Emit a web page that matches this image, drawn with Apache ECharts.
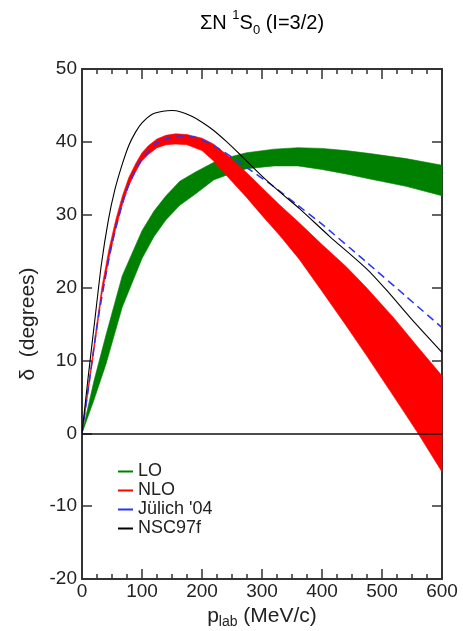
<!DOCTYPE html>
<html><head><meta charset="utf-8">
<script src="https://cdn.jsdelivr.net/npm/echarts@6/dist/echarts.min.js"></script>
<style>html,body{margin:0;padding:0;background:#fff}#c{width:463px;height:631px}</style>
</head><body><div id="c"></div>
<script>
// ---- data ----
const loP    = [0, 20, 40, 67, 100, 120, 140, 163, 190, 220, 250, 274, 320, 360, 400, 440, 480, 540, 600];
const loLow  = [0, 4.6, 9.5, 17.3, 24.0, 27.0, 29.3, 31.3, 32.9, 34.8, 35.7, 36.3, 36.7, 36.7, 36.2, 35.6, 34.9, 33.9, 32.6];
const loHigh = [0, 7.2, 13.5, 21.6, 27.8, 30.5, 32.6, 34.6, 35.9, 37.2, 38.0, 38.5, 39.0, 39.2, 39.1, 38.8, 38.4, 37.7, 36.8];

const nloP    = [0, 10, 20, 33, 45, 56, 67, 78, 90, 100, 111, 125, 140, 156, 175, 200, 219, 245, 274, 300, 330, 362, 400, 440, 474, 520, 560, 600];
const nloLow  = [0, 5.6, 11.4, 19.0, 24.0, 28.0, 31.3, 34.0, 36.0, 37.4, 38.3, 39.2, 39.6, 39.7, 39.6, 38.8, 37.4, 35.0, 32.4, 29.9, 27.1, 23.9, 19.5, 14.8, 10.7, 5.0, 0.0, -5.3];
const nloHigh = [0, 6.2, 12.2, 20.0, 25.3, 29.2, 32.5, 35.1, 37.1, 38.5, 39.5, 40.4, 40.9, 41.1, 41.0, 40.5, 39.7, 38.0, 35.8, 33.7, 31.3, 28.9, 25.9, 22.9, 20.0, 15.8, 11.8, 7.9];

const julP = [0, 11, 28, 50, 72, 94, 122, 140, 163, 190, 219, 250, 274, 319, 358, 400, 474, 540, 600];
const julD = [0, 6.4, 16.3, 26.0, 32.8, 36.9, 39.7, 40.4, 40.8, 40.6, 39.5, 37.9, 36.5, 33.9, 31.4, 28.7, 23.5, 18.8, 14.5];

const nscP = [0, 10, 22, 32, 44, 55, 67, 78, 89, 100, 117, 135, 150, 165, 183, 200, 219, 240, 263, 300, 330, 363, 413, 474, 508, 550, 600];
const nscD = [0, 7.5, 16.0, 23.0, 29.3, 33.5, 36.9, 39.5, 41.3, 42.6, 43.8, 44.2, 44.3, 44.1, 43.5, 42.7, 41.6, 40.1, 38.3, 35.3, 33.1, 30.8, 27.0, 22.6, 19.6, 15.6, 11.1];

const seriesNames = ['LO', 'NLO', 'J\u00fclich \'04', 'NSC97f'];
const xRange = [0, 600], xStep = 100;
const yRange = [-20, 50], yStep = 10;

// ---- chart ----
const FONT = 'Liberation Sans, Arial, Helvetica, sans-serif';
const TXT = '#222';
const AX = '#333';
const chart = echarts.init(document.getElementById('c'), null, {renderer: 'canvas'});

function pairs(xs, ys) { return xs.map((x, i) => [x, ys[i]]); }

function bandSeries(name, xs, lo, hi, color) {
  return {
    name: name, type: 'custom', silent: true,
    data: xs.map((x, i) => [x, lo[i], hi[i]]),
    encode: {x: 0, y: [1, 2]},
    itemStyle: {color: color},
    renderItem: function (params, api) {
      if (params.dataIndex !== 0) return null;
      const pts = [];
      for (let i = 0; i < xs.length; i++) pts.push(api.coord([xs[i], hi[i]]));
      for (let i = xs.length - 1; i >= 0; i--) pts.push(api.coord([xs[i], lo[i]]));
      return {type: 'polygon', shape: {points: pts}, style: {fill: color, stroke: color, lineWidth: 0.6}};
    }
  };
}

const tickCommon = {show: true, inside: true, length: 10, lineStyle: {color: AX, width: 1.5}};
const lineCommon = {show: true, onZero: false, lineStyle: {color: AX, width: 2}};
const labelCommon = {fontFamily: FONT, fontSize: 19, color: TXT};

const option = {
  animation: false,
  backgroundColor: '#fff',
  grid: {left: 82, right: 21, top: 69, bottom: 52, containLabel: false, outerBoundsMode: 'none'},
  graphic: [{
    type: 'text', x: 262, y: 23,
    style: {
      text: '{a|\u03a3N }{s|1}{a|S}{b|0}{a| (I=3/2)}',
      textAlign: 'center', textVerticalAlign: 'middle',
      rich: {
        a: {fontFamily: FONT, fontSize: 20, color: TXT, lineHeight: 28, verticalAlign: 'middle'},
        s: {fontFamily: FONT, fontSize: 13, color: TXT, lineHeight: 13, verticalAlign: 'top'},
        b: {fontFamily: FONT, fontSize: 13, color: TXT, lineHeight: 13, verticalAlign: 'bottom'}
      }
    }
  }],
  legend: {
    data: seriesNames, orient: 'vertical', left: 113, top: 457,
    itemWidth: 15, itemHeight: 2, icon: 'rect', itemGap: 0,
    selectedMode: false,
    itemStyle: {borderWidth: 0},
    textStyle: {fontFamily: FONT, fontSize: 18, color: TXT, lineHeight: 19, padding: [0, 0, 0, 0]}
  },
  xAxis: [{
    type: 'value', min: xRange[0], max: xRange[1], interval: xStep, position: 'bottom',
    axisLine: lineCommon, axisTick: tickCommon,
    minorTick: {show: true, splitNumber: 4, length: 5, lineStyle: {color: AX, width: 1.5}},
    splitLine: {show: false}, minorSplitLine: {show: false},
    axisLabel: Object.assign({margin: 3}, labelCommon),
    name: '{a|p}{b|lab}{a| (MeV/c)}', nameLocation: 'middle', nameGap: 22,
    nameTextStyle: {
      rich: {
        a: {fontFamily: FONT, fontSize: 21, color: TXT, lineHeight: 26, verticalAlign: 'middle'},
        b: {fontFamily: FONT, fontSize: 14, color: TXT, lineHeight: 14, verticalAlign: 'bottom'}
      }
    }
  }, {
    type: 'value', min: xRange[0], max: xRange[1], interval: xStep, position: 'top',
    axisLine: lineCommon, axisTick: tickCommon,
    minorTick: {show: true, splitNumber: 4, length: 5, lineStyle: {color: AX, width: 1.5}},
    splitLine: {show: false}, axisLabel: {show: false}
  }],
  yAxis: [{
    type: 'value', min: yRange[0], max: yRange[1], interval: yStep, position: 'left',
    axisLine: lineCommon, axisTick: tickCommon, splitLine: {show: false},
    axisLabel: Object.assign({margin: 5}, labelCommon),
    name: '\u03b4  (degrees)', nameLocation: 'middle', nameGap: 43,
    nameTextStyle: {fontFamily: FONT, fontSize: 21, color: TXT}
  }, {
    type: 'value', min: yRange[0], max: yRange[1], interval: yStep, position: 'right',
    axisLine: lineCommon, axisTick: tickCommon, splitLine: {show: false},
    axisLabel: {show: false}
  }],
  series: [
    bandSeries(seriesNames[0], loP, loLow, loHigh, '#008000'),
    bandSeries(seriesNames[1], nloP, nloLow, nloHigh, '#ff0000'),
    {
      name: seriesNames[2], type: 'line', data: pairs(julP, julD), symbol: 'none',
      smooth: 0.2, color: '#2b35f0', itemStyle: {color: '#2b35f0'},
      lineStyle: {color: '#2b35f0', width: 1.5, type: [8, 5]}, silent: true, emphasis: {disabled: true}
    },
    {
      name: seriesNames[3], type: 'line', data: pairs(nscP, nscD), symbol: 'none',
      smooth: 0.2, color: '#000', itemStyle: {color: '#000'},
      lineStyle: {color: '#000', width: 1.1}, silent: true, emphasis: {disabled: true},
      markLine: {
        silent: true, symbol: 'none', label: {show: false},
        lineStyle: {color: '#111', width: 1.5, type: 'solid'},
        data: [{yAxis: 0}]
      }
    }
  ]
};
chart.setOption(option);
</script>
</body></html>
